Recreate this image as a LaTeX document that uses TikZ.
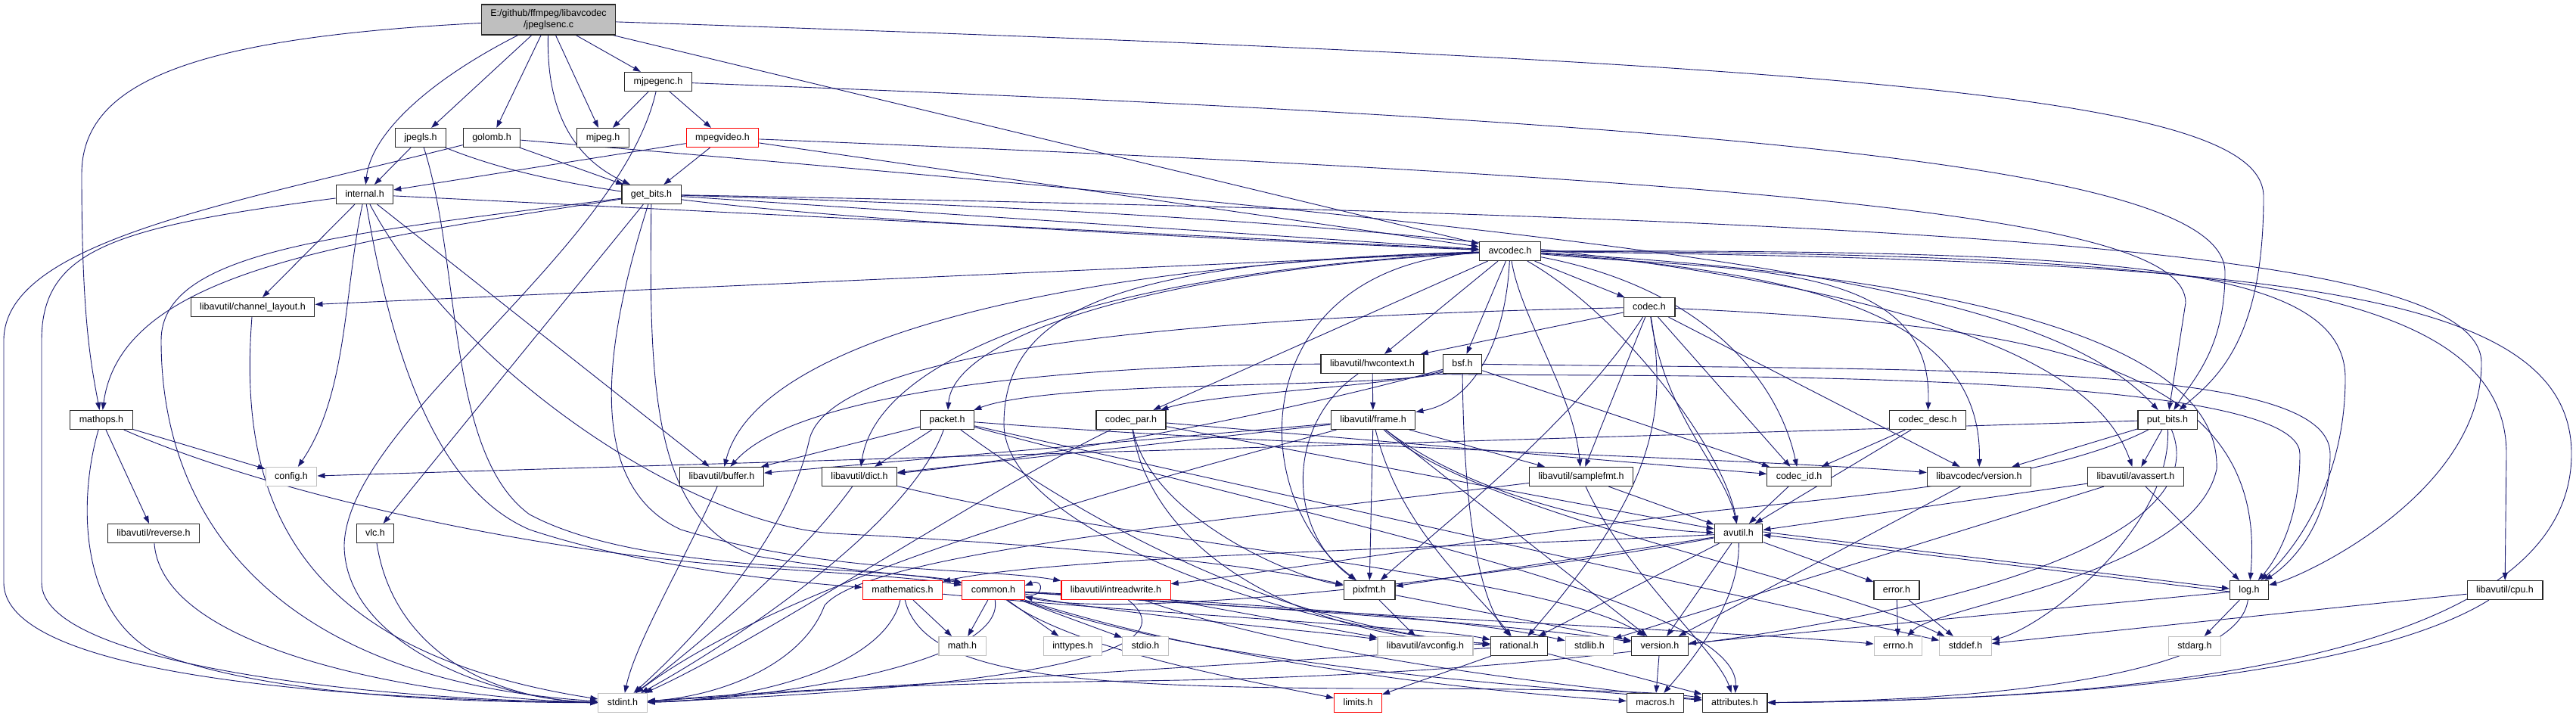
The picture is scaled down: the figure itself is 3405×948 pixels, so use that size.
\documentclass[tikz,border=0pt]{standalone}
\usepackage{fontspec}
\setmainfont{Liberation Sans}
\usetikzlibrary{arrows.meta,backgrounds}
\definecolor{edgeblue}{HTML}{191970}
\definecolor{boxgray}{HTML}{BFBFBF}
\begin{document}
\begin{tikzpicture}[x=1pt, y=-1pt,
		file/.style={draw=black!85, line width=1.2pt, fill=white, inner xsep=12pt, inner ysep=0pt,
			minimum height=25pt, text height=9pt, text depth=2.5pt, font=\fontsize{12.5pt}{15pt}\selectfont},
		sys/.style={file, draw=boxgray},
		trunc/.style={file, draw=red},
		root/.style={draw=black!85, line width=1.2pt, fill=boxgray, align=center, inner xsep=12pt,
			minimum height=40pt, font=\fontsize{12.5pt}{15pt}\selectfont},
		edge/.style={draw=edgeblue, line width=0.9pt, -{Triangle[length=10pt,width=7pt]}}]
		\pgfmathsetmacro{\rowA}{26}
		\pgfmathsetmacro{\rowB}{108}
		\pgfmathsetmacro{\rowC}{182}
		\pgfmathsetmacro{\rowD}{257}
		\pgfmathsetmacro{\rowE}{332}
		\pgfmathsetmacro{\rowF}{406}
		\pgfmathsetmacro{\rowG}{481}
		\pgfmathsetmacro{\rowH}{555}
		\pgfmathsetmacro{\rowI}{630}
		\pgfmathsetmacro{\rowJ}{705}
		\pgfmathsetmacro{\rowK}{780}
		\pgfmathsetmacro{\rowL}{854}
		\pgfmathsetmacro{\rowM}{929}
		\useasboundingbox (0,0) rectangle (3405,948);
		% files
		\node[root] (jp) at (725,\rowA) {E:/github/ffmpeg/libavcodec\\/jpeglsenc.c};
		\node[file] (mjpegenc) at (870,\rowB) {mjpegenc.h};
		\node[file] (jpegls) at (556,\rowC) {jpegls.h};
		\node[file] (golomb) at (650,\rowC) {golomb.h};
		\node[file] (mjpeg) at (797,\rowC) {mjpeg.h};
		\node[trunc] (mpegvideo) at (955,\rowC) {mpegvideo.h};
		\node[file] (internal) at (482,\rowD) {internal.h};
		\node[file] (getbits) at (861,\rowD) {get\_bits.h};
		\node[file] (avcodec) at (1996,\rowE) {avcodec.h};
		\node[file] (chlayout) at (334,\rowF) {libavutil/channel\_layout.h};
		\node[file] (codec) at (2180,\rowF) {codec.h};
		\node[file] (hwctx) at (1814,\rowG) {libavutil/hwcontext.h};
		\node[file] (bsf) at (1933,\rowG) {bsf.h};
		\node[file] (mathops) at (134,\rowH) {mathops.h};
		\node[file] (packet) at (1252,\rowH) {packet.h};
		\node[file] (codecpar) at (1495,\rowH) {codec\_par.h};
		\node[file] (frame) at (1815,\rowH) {libavutil/frame.h};
		\node[file] (codecdesc) at (2548,\rowH) {codec\_desc.h};
		\node[file] (putbits) at (2865,\rowH) {put\_bits.h};
		\node[sys] (config) at (385,\rowI) {config.h};
		\node[file] (buffer) at (954,\rowI) {libavutil/buffer.h};
		\node[file] (dict) at (1136,\rowI) {libavutil/dict.h};
		\node[file] (samplefmt) at (2090,\rowI) {libavutil/samplefmt.h};
		\node[file] (codecid) at (2378,\rowI) {codec\_id.h};
		\node[file] (lavcver) at (2616,\rowI) {libavcodec/version.h};
		\node[file] (avassert) at (2823,\rowI) {libavutil/avassert.h};
		\node[file] (reverse) at (203,\rowJ) {libavutil/reverse.h};
		\node[file] (vlc) at (496,\rowJ) {vlc.h};
		\node[file] (avutil) at (2298,\rowJ) {avutil.h};
		\node[trunc] (mathem) at (1193,\rowK) {mathematics.h};
		\node[trunc] (common) at (1313,\rowK) {common.h};
		\node[trunc] (intrw) at (1475,\rowK) {libavutil/intreadwrite.h};
		\node[file] (pixfmt) at (1810,\rowK) {pixfmt.h};
		\node[file] (error) at (2507,\rowK) {error.h};
		\node[file] (log) at (2973,\rowK) {log.h};
		\node[file] (cpu) at (3311,\rowK) {libavutil/cpu.h};
		\node[sys] (math) at (1272,\rowL) {math.h};
		\node[sys] (inttypes) at (1418,\rowL) {inttypes.h};
		\node[sys] (stdio) at (1514,\rowL) {stdio.h};
		\node[sys] (avconfig) at (1884,\rowL) {libavutil/avconfig.h};
		\node[file] (rational) at (2008,\rowL) {rational.h};
		\node[sys] (stdlib) at (2101,\rowL) {stdlib.h};
		\node[file] (version) at (2194,\rowL) {version.h};
		\node[sys] (errno) at (2509,\rowL) {errno.h};
		\node[sys] (stddef) at (2598,\rowL) {stddef.h};
		\node[sys] (stdarg) at (2901,\rowL) {stdarg.h};
		\node[sys] (stdint) at (823,\rowM) {stdint.h};
		\node[trunc] (limits) at (1795,\rowM) {limits.h};
		\node[file] (macros) at (2188,\rowM) {macros.h};
		\node[file] (attributes) at (2293,\rowM) {attributes.h};
		\begin{pgfonlayer}{background}
		\fill[white] (0,0) rectangle (3405,948);
		% includes of jpeglsenc.c
		\draw[edge] (jp) .. controls (250,50) and (108,110) .. (108,230) .. controls (108,420) and (120,480) .. (mathops);
		\draw[edge] (jp) .. controls (560,110) and (490,180) .. (internal);
		\draw[edge] (jp) -- (jpegls);
		\draw[edge] (jp) -- (golomb);
		\draw[edge] (jp) .. controls (722,150) and (760,210) .. (getbits);
		\draw[edge] (jp) -- (mjpeg);
		\draw[edge] (jp) -- (mjpegenc);
		\draw[edge] (jp) -- (avcodec);
		\draw[edge] (jp) .. controls (2500,85) and (2992,130) .. (2992,260) .. controls (2992,450) and (2930,500) .. (putbits);
		% libavcodec headers
		\draw[edge] (mjpegenc) -- (mjpeg);
		\draw[edge] (mjpegenc) -- (mpegvideo);
		\draw[edge] (mjpegenc) .. controls (2400,165) and (2941,230) .. (2941,360) .. controls (2941,460) and (2900,500) .. (putbits);
		\draw[edge] (mjpegenc) .. controls (820,330) and (460,560) .. (455,720) .. controls (455,850) and (650,925) .. (stdint);
		\draw[edge] (jpegls) -- (internal);
		\draw[edge] (jpegls) .. controls (610,350) and (590,600) .. (700,680) .. controls (850,760) and (1150,745) .. (common);
		\draw[edge] (jpegls) .. controls (750,260) and (1000,290) .. (avcodec);
		\draw[edge] (golomb) -- (getbits);
		\draw[edge] (golomb) .. controls (300,270) and (5,320) .. (5,450) -- (5,770) .. controls (5,900) and (500,925) .. (stdint);
		\draw[edge] (golomb) .. controls (2300,320) and (2700,380) .. (putbits);
		\draw[edge] (mpegvideo) -- (internal);
		\draw[edge] (mpegvideo) -- (getbits);
		\draw[edge] (mpegvideo) -- (avcodec);
		\draw[edge] (mpegvideo) .. controls (2400,240) and (2889,290) .. (2889,400) -- (putbits);
		\draw[edge] (internal) .. controls (150,300) and (55,330) .. (55,450) -- (55,770) .. controls (55,880) and (500,925) .. (stdint);
		\draw[edge] (internal) -- (chlayout);
		\draw[edge] (internal) .. controls (455,380) and (460,520) .. (config);
		\draw[edge] (internal) .. controls (510,420) and (560,640) .. (700,700) .. controls (850,750) and (1050,770) .. (mathem);
		\draw[edge] (internal) .. controls (600,480) and (900,690) .. (1100,705) .. controls (1400,720) and (1650,745) .. (pixfmt);
		\draw[edge] (internal) -- (buffer);
		\draw[edge] (internal) -- (avcodec);
		\draw[edge] (getbits) .. controls (450,310) and (213,330) .. (213,450) .. controls (213,700) and (380,900) .. (stdint);
		\draw[edge] (getbits) .. controls (450,320) and (160,360) .. (mathops);
		\draw[edge] (getbits) -- (vlc);
		\draw[edge] (getbits) .. controls (858,500) and (860,690) .. (1000,735) .. controls (1150,760) and (1230,760) .. (common);
		\draw[edge] (getbits) .. controls (800,450) and (770,640) .. (900,700) .. controls (1100,760) and (1300,750) .. (intrw);
		\draw[edge] (getbits) .. controls (2600,290) and (3280,330) .. (3280,480) .. controls (3280,650) and (3050,760) .. (log);
		\draw[edge] (getbits) .. controls (2300,300) and (2750,420) .. (avassert);
		\draw[edge] (getbits) -- (avcodec);
		\draw[edge] (mathops) -- (config);
		\draw[edge] (mathops) .. controls (350,650) and (700,730) .. (1000,750) .. controls (1150,760) and (1220,765) .. (common);
		\draw[edge] (mathops) -- (reverse);
		\draw[edge] (mathops) .. controls (106,650) and (100,800) .. (200,860) .. controls (350,920) and (600,928) .. (stdint);
		\draw[edge] (reverse) .. controls (215,870) and (600,925) .. (stdint);
		\draw[edge] (vlc) .. controls (520,860) and (650,925) .. (stdint);
		\draw[edge] (chlayout) .. controls (315,650) and (380,860) .. (stdint);
		% avcodec.h
		\draw[edge] (avcodec) -- (chlayout);
		\draw[edge] (avcodec) .. controls (1400,350) and (1000,450) .. (buffer);
		\draw[edge] (avcodec) .. controls (1450,360) and (1160,470) .. (dict);
		\draw[edge] (avcodec) .. controls (1500,360) and (1260,450) .. (packet);
		\draw[edge] (avcodec) -- (codecpar);
		\draw[edge] (avcodec) -- (hwctx);
		\draw[edge] (avcodec) -- (bsf);
		\draw[edge] (avcodec) .. controls (1990,450) and (1950,530) .. (frame);
		\draw[edge] (avcodec) .. controls (2010,420) and (2080,520) .. (samplefmt);
		\draw[edge] (avcodec) .. controls (1500,345) and (1327,400) .. (1327,560) .. controls (1327,700) and (1700,830) .. (rational);
		\draw[edge] (avcodec) .. controls (1650,350) and (1640,650) .. (pixfmt);
		\draw[edge] (avcodec) .. controls (2150,420) and (2280,600) .. (avutil);
		\draw[edge] (avcodec) -- (codec);
		\draw[edge] (avcodec) .. controls (2250,380) and (2350,500) .. (codecid);
		\draw[edge] (avcodec) .. controls (2300,360) and (2556,340) .. (codecdesc);
		\draw[edge] (avcodec) .. controls (2400,360) and (2620,420) .. (lavcver);
		\draw[edge] (avcodec) .. controls (2800,330) and (3100,350) .. (3100,500) .. controls (3100,650) and (3020,740) .. (log);
		\draw[edge] (avcodec) .. controls (2900,335) and (3313,370) .. (3313,600) -- (cpu);
		\draw[edge] (avcodec) .. controls (3000,345) and (3399,380) .. (3399,600) .. controls (3399,880) and (2800,925) .. (attributes);
		\draw[edge] (avcodec) .. controls (2700,370) and (2935,480) .. (2930,620) .. controls (2900,760) and (2560,800) .. (errno);
		% codec.h and friends
		\draw[edge] (codec) -- (hwctx);
		\draw[edge] (codec) .. controls (1500,420) and (1100,470) .. (1070,580) .. controls (1040,720) and (900,860) .. (stdint);
		\draw[edge] (codec) .. controls (2200,550) and (2280,620) .. (avutil);
		\draw[edge] (codec) .. controls (2700,430) and (3000,480) .. (log);
		\draw[edge] (codec) .. controls (2080,560) and (1900,700) .. (pixfmt);
		\draw[edge] (codec) .. controls (2205,550) and (2185,650) .. (rational);
		\draw[edge] (codec) -- (samplefmt);
		\draw[edge] (codec) -- (codecid);
		\draw[edge] (codec) -- (lavcver);
		\draw[edge] (codecdesc) -- (avutil);
		\draw[edge] (codecdesc) -- (codecid);
		\draw[edge] (codecid) -- (avutil);
		\draw[edge] (codecpar) .. controls (1300,650) and (1000,850) .. (stdint);
		\draw[edge] (codecpar) -- (avutil);
		\draw[edge] (codecpar) .. controls (1520,720) and (1700,840) .. (rational);
		\draw[edge] (codecpar) .. controls (1520,680) and (1700,760) .. (pixfmt);
		\draw[edge] (codecpar) -- (codecid);
		\draw[edge] (packet) -- (stddef);
		\draw[edge] (packet) .. controls (1200,700) and (950,860) .. (stdint);
		\draw[edge] (packet) .. controls (1800,700) and (2300,800) .. (attributes);
		\draw[edge] (packet) -- (buffer);
		\draw[edge] (packet) -- (dict);
		\draw[edge] (packet) .. controls (1450,700) and (1700,830) .. (rational);
		\draw[edge] (packet) .. controls (1700,590) and (2300,605) .. (lavcver);
		\draw[edge] (bsf) .. controls (1650,560) and (1300,615) .. (dict);
		\draw[edge] (bsf) .. controls (2600,490) and (3080,480) .. (3080,600) .. controls (3080,700) and (3020,750) .. (log);
		\draw[edge] (bsf) .. controls (1935,700) and (1960,800) .. (rational);
		\draw[edge] (bsf) -- (codecid);
		\draw[edge] (bsf) .. controls (1850,510) and (1600,520) .. (codecpar);
		\draw[edge] (bsf) .. controls (1850,515) and (1400,500) .. (packet);
		% libavutil headers
		\draw[edge] (hwctx) .. controls (1400,482) and (1050,520) .. (buffer);
		\draw[edge] (hwctx) -- (frame);
		\draw[edge] (hwctx.south east) .. controls (2100,500) and (3040,480) .. (3040,600) .. controls (3040,700) and (3000,750) .. (log);
		\draw[edge] (hwctx) .. controls (1700,560) and (1700,700) .. (pixfmt);
		\draw[edge] (frame) .. controls (1950,680) and (2400,760) .. (stddef);
		\draw[edge] (frame) .. controls (1500,640) and (1050,760) .. (stdint);
		\draw[edge] (frame) .. controls (1950,660) and (2150,700) .. (avutil);
		\draw[edge] (frame) -- (buffer);
		\draw[edge] (frame) -- (dict);
		\draw[edge] (frame) .. controls (1850,700) and (1950,780) .. (rational);
		\draw[edge] (frame) -- (samplefmt);
		\draw[edge] (frame) -- (pixfmt);
		\draw[edge] (frame) -- (version);
		\draw[edge] (samplefmt) .. controls (1600,690) and (1150,730) .. (1090,800) .. controls (1060,880) and (950,920) .. (stdint);
		\draw[edge] (samplefmt) -- (avutil);
		\draw[edge] (samplefmt) .. controls (2150,760) and (2270,860) .. (attributes);
		\draw[edge] (dict) .. controls (1050,750) and (900,870) .. (stdint);
		\draw[edge] (dict) .. controls (1500,720) and (2050,760) .. (version);
		\draw[edge] (buffer) .. controls (900,750) and (840,850) .. (stdint);
		\draw[edge] (lavcver) -- (version);
		\draw[edge] (putbits) -- (config);
		\draw[edge] (putbits) .. controls (2950,760) and (2300,890) .. (1500,900) .. controls (1100,905) and (950,920) .. (stdint);
		\draw[edge] (putbits) .. controls (2870,700) and (2700,830) .. (stddef);
		\draw[edge] (putbits) .. controls (2700,640) and (2400,660) .. (2250,677) .. controls (1900,720) and (1650,760) .. (intrw);
		\draw[edge] (putbits) -- (avassert);
		\draw[edge] (putbits) -- (lavcver);
		\draw[edge] (avassert) -- (stdlib);
		\draw[edge] (avassert) -- (avutil);
		\draw[edge] (avassert) -- (log);
		\draw[edge] (avutil) .. controls (2000,760) and (1500,820) .. (common);
		\draw[edge] (avutil) -- (error);
		\draw[edge] (avutil) -- (rational);
		\draw[edge] (avutil) -- (version);
		\draw[edge] (avutil) .. controls (2300,800) and (2230,880) .. (macros);
		\draw[edge] (avutil) .. controls (1900,725) and (1400,735) .. (mathem);
		\draw[edge] (avutil) -- (pixfmt);
		\draw[edge] ([yshift=2pt]avutil.east) -- ([yshift=2pt]log.west);
		\draw[edge] ([yshift=-2pt]log.west) -- ([yshift=-2pt]avutil.east);
		\draw[edge] (log) -- (stdarg);
		\draw[edge] (log) .. controls (2960,880) and (2700,925) .. (attributes);
		\draw[edge] (log) -- (version);
		\draw[edge] (error) -- (errno);
		\draw[edge] (error) -- (stddef);
		\draw[edge] (cpu) -- (stddef);
		\draw[edge] (cpu) .. controls (3150,880) and (2800,925) .. (attributes);
		\draw[edge] (common) -- (math);
		\draw[edge] (common) -- (inttypes);
		\draw[edge] (common) -- (stdio);
		\draw[edge] (common) .. controls (1700,800) and (1950,820) .. (stdlib);
		\draw[edge] (common) .. controls (1420,860) and (1650,900) .. (limits);
		\draw[edge] (common) .. controls (1800,815) and (2300,835) .. (errno);
		\draw[edge] (common) .. controls (1330,880) and (1000,925) .. (stdint);
		\draw[edge] (common) .. controls (1600,880) and (2000,905) .. (attributes);
		\draw[edge] (common) .. controls (1600,870) and (1900,910) .. (macros);
		\draw[edge] (common) .. controls (1700,805) and (2000,825) .. (version);
		\draw[edge] (common) .. controls (1500,815) and (1750,835) .. (avconfig);
		\draw[edge] ([yshift=-5pt]common.east) .. controls +(26pt,-8pt) and +(26pt,10pt) .. ([yshift=6pt]common.east);
		\draw[edge] (mathem) .. controls (1170,880) and (1000,925) .. (stdint);
		\draw[edge] (mathem) -- (math);
		\draw[edge] (mathem) .. controls (1220,890) and (1400,908) .. (1800,910) .. controls (2100,910) and (2200,915) .. (attributes);
		\draw[edge] (mathem) .. controls (1500,810) and (1900,830) .. (rational);
		\draw[edge] (intrw) .. controls (1600,880) and (1200,915) .. (stdint);
		\draw[edge] (intrw) -- (avconfig);
		\draw[edge] (intrw) .. controls (1700,860) and (2000,900) .. (attributes);
		\draw[edge] (pixfmt) -- (avconfig);
		\draw[edge] (pixfmt) -- (version);
		\draw[edge] (rational) -- (stdint);
		\draw[edge] (rational) -- (limits);
		\draw[edge] (rational) -- (attributes);
		\draw[edge] (version) -- (macros);
		\end{pgfonlayer}
	\end{tikzpicture}
\end{document}
